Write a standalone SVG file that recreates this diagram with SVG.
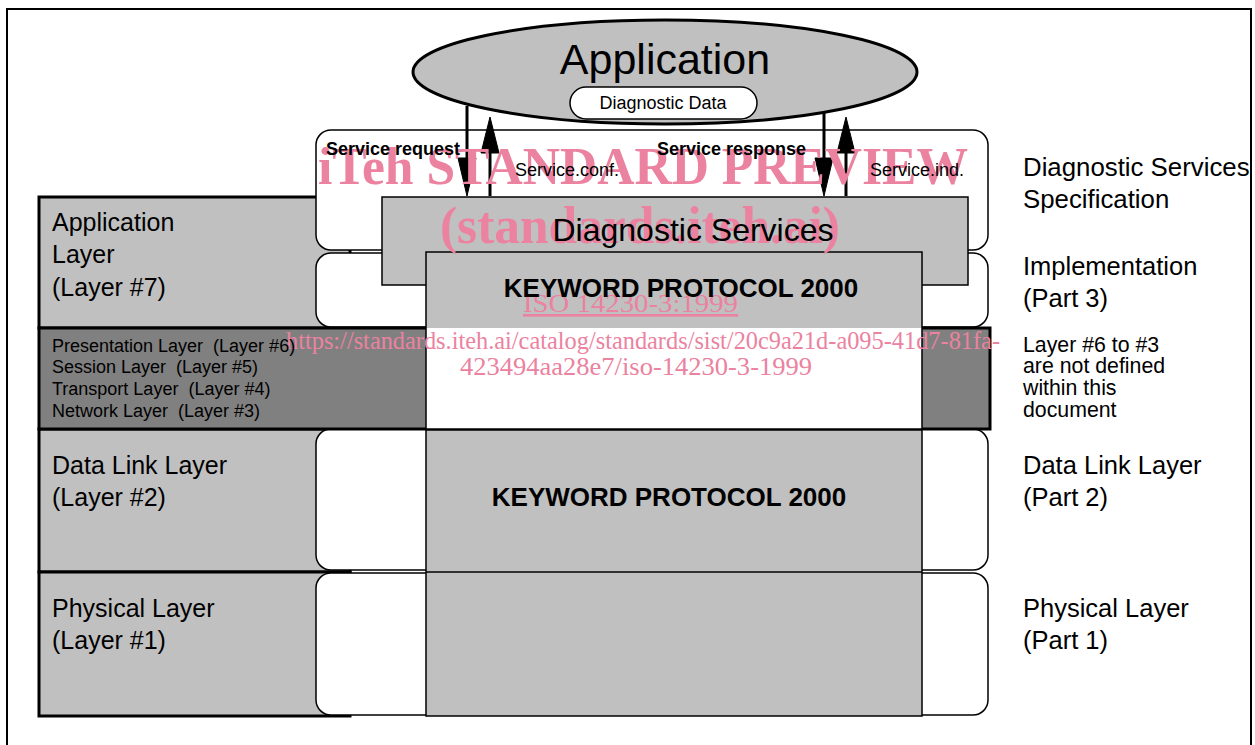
<svg xmlns="http://www.w3.org/2000/svg" width="1255" height="745" viewBox="0 0 1255 745">
<style>
.t{font-family:"Liberation Sans",Arial,sans-serif;fill:#000}
.b{font-weight:bold}
.grey{fill:#c0c0c0;stroke:#000;stroke-width:1.5}
.white{fill:#fff;stroke:#000;stroke-width:1.5}
.lbox{fill:#c0c0c0;stroke:#000;stroke-width:3}
.wm{font-family:"Liberation Serif","Times New Roman",serif;fill:#eb82a0}
.ln{stroke:#000;stroke-width:3;fill:none}
.hd{fill:#000;stroke:#000;stroke-width:1}
</style>
<rect width="1255" height="745" fill="#fff"/>
<rect x="7" y="9" width="1244" height="780" fill="none" stroke="#000" stroke-width="2"/>

<g id="left-app-layer">
<rect class="lbox" x="39" y="197" width="311" height="131"/>
</g>
<g id="left-datalink">
<rect class="lbox" x="39" y="429" width="311" height="143"/>
</g>
<g id="left-physical">
<rect class="lbox" x="39" y="572" width="311" height="144"/>
</g>
<g id="spec-band">
<rect class="white" x="316" y="130" width="672" height="120" rx="15"/>
</g>
<g id="impl-band">
<rect class="white" x="316" y="253" width="672" height="74" rx="15"/>
</g>
<g id="datalink-band">
<rect class="white" x="316" y="429" width="672" height="141" rx="15"/>
</g>
<g id="physical-band">
<rect class="white" x="316" y="573" width="672" height="142" rx="15"/>
</g>
<g id="layers-6-3">
<rect x="39" y="328" width="951" height="101" fill="#808080" stroke="#000" stroke-width="3"/>
</g>
<g id="diagnostic-services">
<rect class="grey" x="382" y="197" width="586" height="88"/>
</g>
<g id="kwp-upper">
<rect x="426" y="252" width="496" height="76" fill="#c0c0c0"/>
<rect x="426" y="328" width="496" height="101" fill="#fff"/>
<rect x="426" y="252" width="496" height="177" fill="none" stroke="#000" stroke-width="1.5"/>
</g>
<g id="kwp-lower">
<rect class="grey" x="426" y="430" width="496" height="286"/>
<line x1="426" y1="572" x2="922" y2="572" stroke="#000" stroke-width="1.5"/>
</g>
<g id="application">
<ellipse cx="665" cy="72" rx="252" ry="52" fill="#c0c0c0" stroke="#000" stroke-width="3"/>
<rect class="white" x="570" y="87" width="187" height="32" rx="16"/>
</g>

<g id="connectors">
<line class="ln" x1="467" y1="106" x2="467" y2="162"/>
<polygon class="hd" points="458,158 476,158 467,196"/>
<line class="ln" x1="490" y1="196" x2="490" y2="150"/>
<polygon class="hd" points="481,153 499,153 490,117"/>
<line class="ln" x1="824" y1="112" x2="824" y2="162"/>
<polygon class="hd" points="815,158 833,158 824,196"/>
<line class="ln" x1="846" y1="196" x2="846" y2="150"/>
<polygon class="hd" points="837,153 855,153 846,117"/>
</g>

<g id="watermark">
<text class="wm" x="318" y="184" font-size="52" font-weight="bold" textLength="650" lengthAdjust="spacingAndGlyphs">iTeh STANDARD PREVIEW</text>
<text class="wm" x="440" y="243" font-size="52" font-weight="bold" textLength="400" lengthAdjust="spacingAndGlyphs">(standards.iteh.ai)</text>
<text class="wm" x="523" y="312" font-size="26" text-decoration="underline" textLength="215" lengthAdjust="spacingAndGlyphs">ISO 14230-3:1999</text>
<text class="wm" x="286" y="349" font-size="26" textLength="714" lengthAdjust="spacingAndGlyphs">https://standards.iteh.ai/catalog/standards/sist/20c9a21d-a095-41d7-81fa-</text>
<text class="wm" x="460" y="375" font-size="26" textLength="352" lengthAdjust="spacingAndGlyphs">423494aa28e7/iso-14230-3-1999</text>
</g>

<g id="application-text">
<text class="t" x="665" y="74" font-size="43" text-anchor="middle">Application</text>
<text class="t" x="663" y="109" font-size="18" text-anchor="middle">Diagnostic Data</text>
</g>
<g id="diagnostic-services-text">
<text class="t" x="693" y="241" font-size="32" text-anchor="middle">Diagnostic Services</text>
</g>
<g id="kwp-upper-text">
<text class="t b" x="681" y="297" font-size="26" text-anchor="middle">KEYWORD PROTOCOL 2000</text>
</g>
<g id="kwp-lower-text">
<text class="t b" x="669" y="506" font-size="26" text-anchor="middle">KEYWORD PROTOCOL 2000</text>
</g>

<g id="labels">
<text class="t b" x="326" y="155" font-size="18">Service request</text>
<text class="t b" x="657" y="155" font-size="18">Service response</text>
<text class="t" x="515" y="176" font-size="18">Service.conf.</text>
<text class="t" x="870" y="176" font-size="18">Service.ind.</text>

<text class="t" font-size="25"><tspan x="52" y="231">Application</tspan><tspan x="52" y="263">Layer</tspan><tspan x="52" y="296">(Layer #7)</tspan></text>
<text class="t" font-size="18" xml:space="preserve"><tspan x="52" y="352">Presentation Layer  (Layer #6)</tspan><tspan x="52" y="373">Session Layer  (Layer #5)</tspan><tspan x="52" y="395">Transport Layer  (Layer #4)</tspan><tspan x="52" y="417">Network Layer  (Layer #3)</tspan></text>
<text class="t" font-size="25"><tspan x="52" y="474">Data Link Layer</tspan><tspan x="52" y="506">(Layer #2)</tspan></text>
<text class="t" font-size="25"><tspan x="52" y="617">Physical Layer</tspan><tspan x="52" y="649">(Layer #1)</tspan></text>

<text class="t" font-size="25.8"><tspan x="1023" y="176">Diagnostic Services</tspan><tspan x="1023" y="208">Specification</tspan></text>
<text class="t" font-size="25.5"><tspan x="1023" y="275">Implementation</tspan><tspan x="1023" y="307">(Part 3)</tspan></text>
<text class="t" font-size="21.3"><tspan x="1023" y="352">Layer #6 to #3</tspan><tspan x="1023" y="373">are not defined</tspan><tspan x="1023" y="395">within this</tspan><tspan x="1023" y="417">document</tspan></text>
<text class="t" font-size="25.5"><tspan x="1023" y="474">Data Link Layer</tspan><tspan x="1023" y="506">(Part 2)</tspan></text>
<text class="t" font-size="25.5"><tspan x="1023" y="617">Physical Layer</tspan><tspan x="1023" y="649">(Part 1)</tspan></text>
</g>
</svg>
